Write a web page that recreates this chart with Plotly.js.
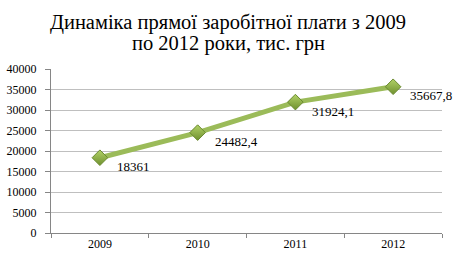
<!DOCTYPE html>
<html><head><meta charset="utf-8">
<script src="https://cdn.plot.ly/plotly-3.0.1.min.js"></script>
<style>body{margin:0;background:#fff}#c{width:456px;height:262px}</style>
</head><body><div id="c"></div>
<script>
const years = ['2009', '2010', '2011', '2012'];
const salary = [18361, 24482.4, 31924.1, 35667.8];
const labels = ['18361', '24482,4', '31924,1', '35667,8'];
const yTicks = [0, 5000, 10000, 15000, 20000, 25000, 30000, 35000, 40000];
const titleLines = ['Динаміка прямої заробітної плати з 2009', 'по 2012 роки, тис. грн'];

const serif = 'Liberation Serif, Times New Roman, serif';
const trace = {
  x: years, y: salary, type: 'scatter', mode: 'lines+markers',
  line: {color: '#9BBB59', width: 5},
  marker: {symbol: 'diamond', size: 12, color: '#B2D267',
    gradient: {type: 'vertical', color: '#6F902F'},
    line: {color: '#6A8A30', width: 1}},
  hoverinfo: 'skip', cliponaxis: false
};
const annotations = years.map((yr, i) => ({
  x: i, y: salary[i], xref: 'x', yref: 'y', text: labels[i], showarrow: false,
  xanchor: 'left', yanchor: 'middle', xshift: 15, yshift: -9,
  font: {family: serif, size: 13, color: '#000'}
}));
annotations.push({
  text: titleLines[1], xref: 'paper', yref: 'paper', x: 0.454, y: 1.158,
  xanchor: 'center', yanchor: 'middle', showarrow: false,
  font: {family: serif, size: 20.5, color: '#000'}
});
const layout = {
  width: 456, height: 262,
  margin: {l: 51, r: 14, t: 69, b: 29},
  paper_bgcolor: '#fff', plot_bgcolor: '#fff',
  showlegend: false,
  title: {text: titleLines[0],
    font: {family: serif, size: 20.5, color: '#000'},
    x: 0.5, xanchor: 'center', y: 1 - 22 / 262, yanchor: 'middle', yref: 'container'},
  xaxis: {type: 'category', range: [-0.5, 3.5], tickson: 'boundaries',
    ticks: 'outside', ticklen: 4, tickcolor: '#868686',
    showline: true, linecolor: '#868686', linewidth: 1,
    showgrid: false, zeroline: false,
    tickfont: {family: serif, size: 12, color: '#000'}},
  yaxis: {range: [0, 40000], tickvals: yTicks, ticktext: yTicks.map(String),
    ticks: 'outside', ticklen: 5, tickcolor: '#868686', ticklabelstandoff: 6,
    showline: true, linecolor: '#868686', linewidth: 1,
    gridcolor: '#BFBFBF', gridwidth: 1, zeroline: false,
    tickfont: {family: serif, size: 12, color: '#000'}},
  annotations: annotations
};
Plotly.newPlot('c', [trace], layout, {staticPlot: true, displayModeBar: false});
</script></body></html>
